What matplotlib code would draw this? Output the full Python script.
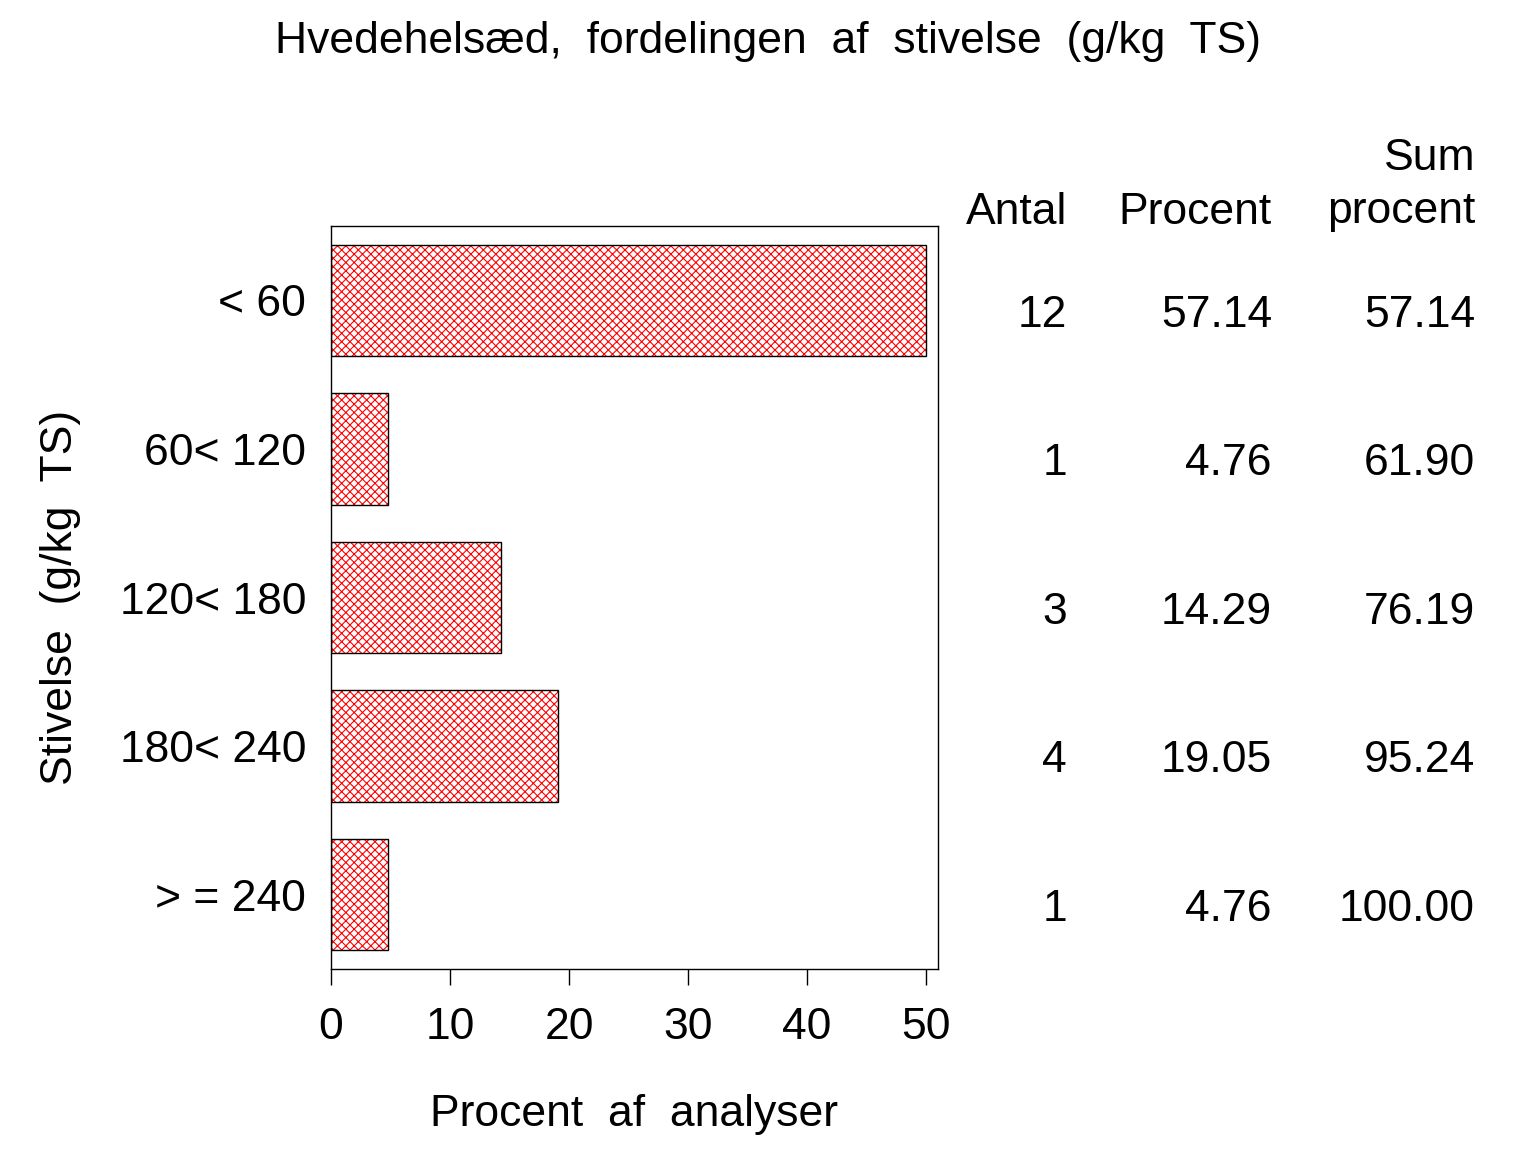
import numpy as np
import matplotlib
matplotlib.use('Agg')
import matplotlib.pyplot as plt
from matplotlib.transforms import blended_transform_factory

plt.rcParams['font.family'] = ['Liberation Sans', 'DejaVu Sans']
plt.rcParams['hatch.linewidth'] = 0.8

# data
kategorier = ['< 60', '60< 120', '120< 180', '180< 240', '> = 240']
antal = [12, 1, 3, 4, 1]
procent = [57.14, 4.76, 14.29, 19.05, 4.76]
sum_procent = [57.14, 61.90, 76.19, 95.24, 100.00]
x_ticks = [0, 10, 20, 30, 40, 50]

fs = 32
fig = plt.figure(figsize=(15.36, 11.52), dpi=100)
ax = fig.add_axes([331/1536, 1 - 969/1152, 607/1536, 743/1152])

y = np.arange(len(kategorier))
bar_vals = np.minimum(procent, 50)  # bars are cut at the axis end (50)

# red crosshatch fill, then black outline on top
ax.barh(y, bar_vals, height=0.75, color='white', edgecolor='red',
        hatch='xxxx', linewidth=0)
ax.barh(y, bar_vals, height=0.75, fill=False, edgecolor='black', linewidth=1)

ax.set_xlim(0, 51)
ax.set_ylim(len(kategorier) - 0.5, -0.5)
ax.set_xticks(x_ticks)
ax.set_xticklabels([str(t) for t in x_ticks], fontsize=fs)
ax.set_yticks(y)
ax.set_yticklabels(kategorier, fontsize=fs)
ax.tick_params(axis='x', direction='out', length=11.5, width=1, pad=16)
ax.tick_params(axis='y', length=0, pad=18)
for s in ax.spines.values():
    s.set_linewidth(1)

ax.set_xlabel('Procent  af  analyser', fontsize=fs, labelpad=33)
ax.set_ylabel('Stivelse  (g/kg  TS)', fontsize=fs, labelpad=28)

fig.text(0.5, 1 - 42/1152, 'Hvedehelsæd,  fordelingen  af  stivelse  (g/kg  TS)',
         ha='center', va='center', fontsize=fs)

# table to the right of the plot
col_x = [1067/1536, 1272/1536, 1475/1536]
trans = blended_transform_factory(fig.transFigure, ax.transData)
for i in range(len(kategorier)):
    row = [str(antal[i]), f'{procent[i]:.2f}', f'{sum_procent[i]:.2f}']
    for cx, txt in zip(col_x, row):
        ax.text(cx, y[i] + 0.1, txt, transform=trans, ha='right',
                va='center', fontsize=fs, clip_on=False)

fig.text(col_x[0], 1 - 212/1152, 'Antal', ha='right', va='center', fontsize=fs)
fig.text(col_x[1], 1 - 212/1152, 'Procent', ha='right', va='center', fontsize=fs)
fig.text(col_x[2], 1 - 158/1152, 'Sum', ha='right', va='center', fontsize=fs)
fig.text(col_x[2], 1 - 212/1152, 'procent', ha='right', va='center', fontsize=fs)

fig.savefig('out.png', dpi=100)
